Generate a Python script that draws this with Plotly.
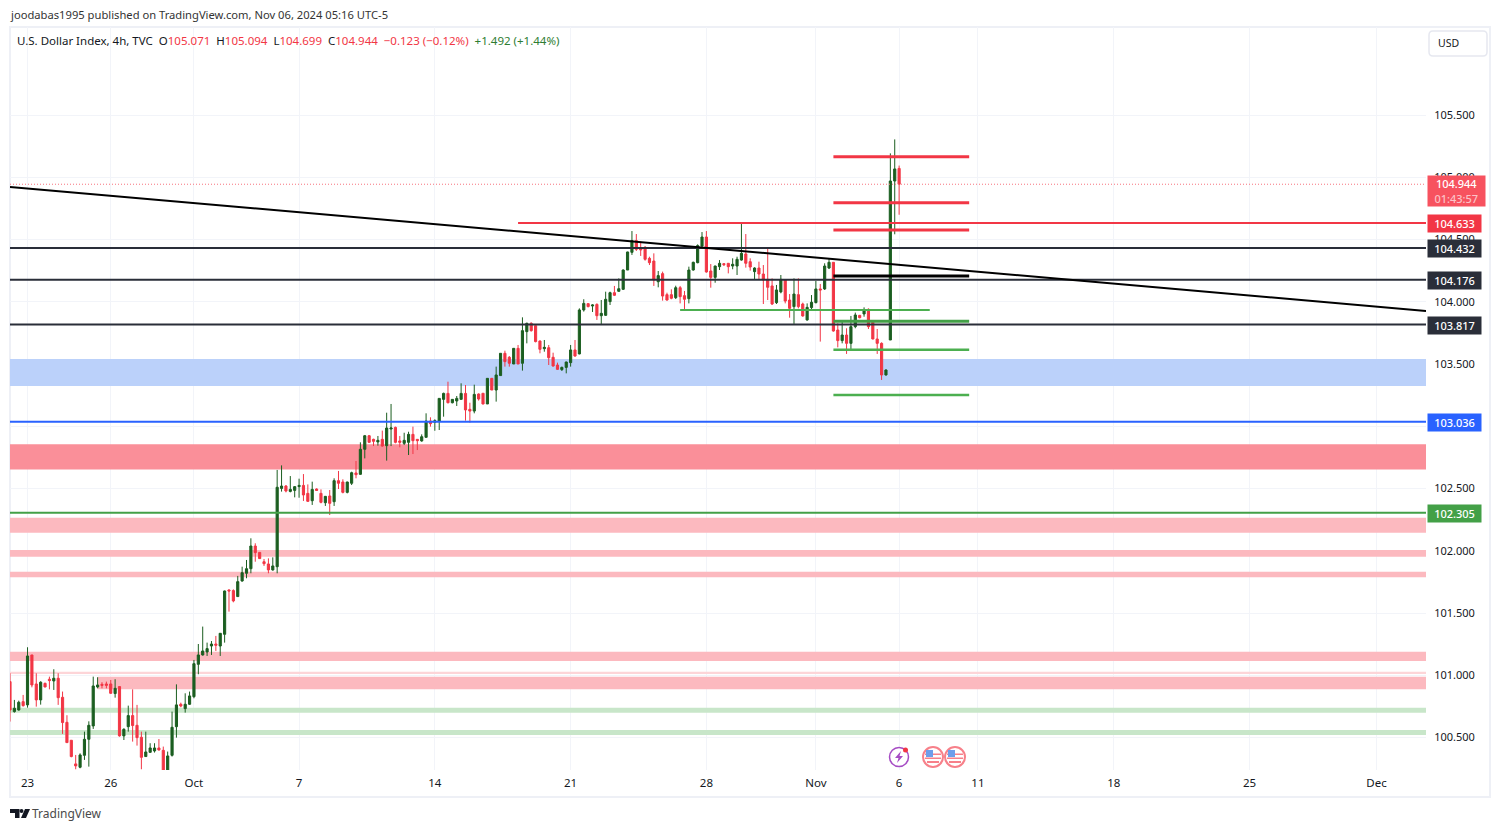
import plotly.graph_objects as go

# 4h candles
opens = [100.949,100.708,100.721,100.788,100.762,101.163,100.930,100.802,100.935,100.968,
         100.954,100.976,100.823,100.622,100.478,100.288,100.261,100.357,100.486,100.593,
         100.906,100.927,100.930,100.930,100.853,100.909,100.513,100.587,100.676,100.598,
         100.502,100.347,100.381,100.392,100.416,100.397,100.213,100.357,100.587,100.767,
         100.732,100.767,100.828,101.088,101.163,101.187,101.235,101.251,101.235,101.329,
         101.685,101.680,101.632,101.757,101.819,101.856,102.038,101.987,101.912,101.894,
         101.846,101.872,102.501,102.520,102.477,102.485,102.515,102.525,102.461,102.402,
         102.496,102.461,102.386,102.440,102.394,102.563,102.552,102.469,102.542,102.625,
         102.614,102.815,102.924,102.895,102.874,102.895,102.844,102.978,102.991,102.882,
         102.863,102.871,102.935,102.895,102.882,102.911,103.042,103.032,103.042,103.216,
         103.264,103.189,103.203,103.216,103.264,103.136,103.122,103.259,103.265,103.179,
         103.385,103.291,103.407,103.586,103.554,103.500,103.626,103.506,103.760,103.827,
         103.808,103.685,103.623,103.631,103.554,103.492,103.455,103.473,103.511,103.613,
         103.581,103.934,103.985,103.966,103.979,103.888,103.891,104.001,104.073,104.084,
         104.100,104.255,104.397,104.491,104.434,104.437,104.349,104.327,104.161,104.226,
         104.057,104.057,104.033,104.113,104.049,104.025,104.255,104.314,104.448,104.520,
         104.247,104.196,104.282,104.306,104.309,104.287,104.287,104.335,104.384,104.322,
         104.242,104.271,104.223,104.180,104.127,103.993,104.079,104.175,104.014,103.961,
         104.057,103.982,103.854,103.953,103.993,104.103,104.103,104.271,104.317,103.773,
         103.688,103.733,103.666,103.800,103.891,103.902,103.939,103.846,103.701,103.666,
         103.412,103.693,104.970,105.071]
highs = [101.016,100.802,100.796,100.842,101.225,101.163,101.016,100.952,100.941,100.989,
         101.048,101.016,100.869,100.679,100.478,100.360,100.373,100.547,100.630,100.989,
         100.984,100.944,100.949,100.962,100.968,100.909,100.574,100.756,100.887,100.762,
         100.547,100.547,100.454,100.454,100.488,100.427,100.387,100.708,100.927,100.780,
         100.855,100.869,101.123,101.251,101.391,101.262,101.275,101.316,101.337,101.680,
         101.690,101.690,101.798,101.872,101.926,102.100,102.060,101.987,101.934,101.939,
         101.947,102.649,102.686,102.528,102.600,102.520,102.579,102.616,102.533,102.555,
         102.501,102.493,102.440,102.488,102.582,102.641,102.574,102.555,102.635,102.721,
         102.871,102.930,102.930,102.900,102.922,102.965,103.109,103.179,102.997,102.922,
         102.948,102.956,102.997,102.895,102.935,103.104,103.072,103.056,103.224,103.270,
         103.358,103.216,103.243,103.345,103.331,103.189,103.334,103.264,103.265,103.385,
         103.385,103.479,103.586,103.607,103.564,103.626,103.653,103.875,103.832,103.835,
         103.808,103.688,103.693,103.653,103.591,103.511,103.479,103.519,103.653,103.693,
         103.947,104.020,103.987,103.979,103.987,104.014,104.081,104.081,104.127,104.188,
         104.260,104.402,104.568,104.544,104.483,104.448,104.362,104.389,104.247,104.242,
         104.073,104.100,104.129,104.127,104.087,104.282,104.322,104.461,104.560,104.568,
         104.303,104.290,104.335,104.309,104.309,104.349,104.362,104.630,104.544,104.349,
         104.277,104.322,104.295,104.437,104.188,104.135,104.215,104.180,104.062,104.188,
         104.188,103.993,103.987,104.054,104.167,104.143,104.309,104.349,104.317,103.827,
         103.840,103.787,103.886,103.913,103.894,103.955,103.947,103.846,103.781,103.674,
         103.457,105.192,105.304,105.094]
lows = [100.628,100.700,100.716,100.748,100.740,100.903,100.748,100.764,100.903,100.887,
        100.882,100.762,100.529,100.459,100.341,100.245,100.253,100.320,100.266,100.569,
        100.895,100.895,100.895,100.850,100.820,100.507,100.480,100.547,100.467,100.435,
        100.245,100.347,100.379,100.379,100.395,100.186,100.213,100.347,100.499,100.743,
        100.700,100.762,100.815,101.008,101.158,101.155,101.163,101.195,101.155,101.262,
        101.511,101.586,101.632,101.752,101.779,101.819,101.912,101.934,101.878,101.819,
        101.840,101.819,102.475,102.469,102.469,102.429,102.426,102.400,102.392,102.368,
        102.480,102.381,102.360,102.287,102.360,102.496,102.461,102.461,102.528,102.582,
        102.611,102.742,102.868,102.841,102.844,102.836,102.724,102.841,102.863,102.831,
        102.849,102.769,102.777,102.809,102.876,102.911,102.997,102.964,102.970,103.077,
        103.184,103.184,103.163,103.216,103.045,103.029,103.104,103.206,103.176,103.179,
        103.291,103.198,103.407,103.479,103.479,103.500,103.500,103.447,103.666,103.760,
        103.674,103.586,103.599,103.492,103.479,103.452,103.444,103.425,103.479,103.559,
        103.578,103.921,103.955,103.918,103.854,103.813,103.886,103.974,104.046,104.081,
        104.095,104.255,104.376,104.408,104.368,104.330,104.295,104.127,104.116,104.009,
        104.009,104.020,104.022,103.987,103.934,103.987,104.250,104.309,104.437,104.234,
        104.113,104.153,104.255,104.287,104.228,104.261,104.215,104.330,104.274,104.250,
        104.183,104.175,103.982,104.014,103.974,103.982,104.068,103.987,103.872,103.822,
        103.947,103.880,103.848,103.939,103.987,103.680,104.095,104.263,103.760,103.634,
        103.666,103.581,103.613,103.787,103.867,103.880,103.781,103.698,103.581,103.372,
        103.407,103.693,104.542,104.699]
closes = [100.721,100.735,100.783,100.756,101.155,100.922,100.802,100.944,100.906,100.957,
          100.976,100.820,100.620,100.459,100.347,100.272,100.360,100.486,100.598,100.914,
          100.922,100.919,100.919,100.855,100.895,100.513,100.566,100.676,100.596,100.499,
          100.341,100.384,100.416,100.416,100.400,100.199,100.352,100.582,100.762,100.753,
          100.767,100.834,101.093,101.163,101.195,101.214,101.251,101.241,101.337,101.677,
          101.677,101.597,101.752,101.824,101.856,102.038,101.985,101.937,101.896,101.846,
          101.878,102.510,102.520,102.480,102.493,102.515,102.525,102.448,102.397,102.493,
          102.485,102.389,102.437,102.381,102.563,102.542,102.469,102.552,102.627,102.611,
          102.815,102.924,102.871,102.879,102.887,102.841,102.986,102.986,102.871,102.871,
          102.887,102.935,102.884,102.884,102.916,103.042,103.021,103.045,103.224,103.264,
          103.189,103.216,103.224,103.264,103.131,103.122,103.256,103.219,103.179,103.385,
          103.291,103.412,103.586,103.519,103.506,103.626,103.500,103.768,103.827,103.768,
          103.680,103.618,103.634,103.551,103.484,103.457,103.473,103.516,103.613,103.564,
          103.934,103.987,103.961,103.974,103.888,103.907,104.020,104.073,104.052,104.105,
          104.255,104.400,104.491,104.421,104.416,104.341,104.314,104.175,104.210,104.046,
          104.014,104.028,104.113,104.041,104.020,104.255,104.317,104.451,104.520,104.239,
          104.196,104.287,104.309,104.298,104.282,104.301,104.341,104.389,104.309,104.279,
          104.271,104.223,104.175,104.116,103.982,104.095,104.180,104.006,103.947,104.062,
          103.961,103.886,103.955,103.996,104.103,104.095,104.287,104.317,103.765,103.688,
          103.733,103.666,103.800,103.894,103.872,103.934,103.800,103.701,103.666,103.412,
          103.452,104.970,105.067,104.944]

# time axis, positions are bar numbers
date_ticks = [4, 23, 42, 66, 97, 128, 159, 184, 203, 221, 252, 283, 312]
date_labels = ['23', '26', 'Oct', '7', '14', '21', '28', 'Nov', '6', '11', '18', '25', 'Dec']
price_ticks = [100.5, 101.0, 101.5, 102.0, 102.5, 103.0, 103.5, 104.0, 104.5, 105.0, 105.5]
# 103.000 sits fully behind the blue tag in the reference
price_labels = ['100.500', '101.000', '101.500', '102.000', '102.500', '', '103.500', '104.000', '104.500', '105.000', '105.500']

# full width levels: price, colour, tag shown on the price scale
level_prices = [104.432, 104.176, 103.817, 103.036, 102.305]
level_colors = ['#2a2e39', '#2a2e39', '#2a2e39', '#2962ff', '#43a047']
last_price = 104.944
resistance_price = 104.633
resistance_start = 116
trend_x = [0, 323.3]
trend_y = [104.922, 103.926]

# zones: low, high, start bar, colour
zone_lows = [103.323, 102.653, 102.145, 101.952, 101.787, 101.114, 101.010, 100.887, 100.699, 100.520]
zone_highs = [103.540, 102.855, 102.265, 102.006, 101.832, 101.189, 101.028, 100.989, 100.739, 100.560]
zone_starts = [0, 0, 0, 0, 0, 0, 0, 20, 0, 0]
zone_colors = ['#bbd1fa', '#fa8f99', '#fcb9bf', '#fcb9bf', '#fcb9bf', '#fcb9bf', '#fdd5d8', '#fcb9bf', '#c8e6c9', '#c8e6c9']

# short target lines drawn after Nov 1
seg_prices = [105.165, 104.796, 104.576, 104.207, 103.843, 103.615, 103.251, 103.934]
seg_starts = [188, 188, 188, 188, 188, 188, 188, 153]
seg_ends = [219, 219, 219, 219, 219, 219, 219, 210]
seg_colors = ['#f23645', '#f23645', '#f23645', '#000000', '#43a047', '#4caf50', '#4caf50', '#4caf50']
seg_widths = [3, 3, 3, 3, 3, 2.5, 2.5, 2]

bars = list(range(len(opens)))
X_MAX = 323.3
FONT = 'Noto Sans'


# chart frame in pixels, used for everything that sits outside the axes
def px(x):
    return (x - 10) / 1416


def py(y):
    return (770 - y) / 743


def path(points):
    return 'M' + ' L'.join('%.5f,%.5f' % (px(a), py(b)) for a, b in points) + ' Z'


def circle(cx, cy, r, line, fill, width=1.5):
    return dict(type='circle', xref='paper', yref='paper', x0=px(cx - r), x1=px(cx + r), y0=py(cy + r), y1=py(cy - r),
                line=dict(color=line, width=width), fillcolor=fill, layer='above')


def box(x0, y0, x1, y1, color):
    return dict(type='rect', xref='paper', yref='paper', x0=px(x0), x1=px(x1), y0=py(y1), y1=py(y0),
                line_width=0, fillcolor=color, layer='above')


fig = go.Figure()

fig.add_trace(go.Candlestick(x=bars, open=opens, high=highs, low=lows, close=closes,
                             increasing=dict(line=dict(color='#1b5e20', width=1), fillcolor='#1b5e20'),
                             decreasing=dict(line=dict(color='#f23645', width=1), fillcolor='#f23645'),
                             whiskerwidth=0, showlegend=False, hoverinfo='skip'))

fig.add_trace(go.Scatter(x=[0, X_MAX], y=[last_price, last_price], mode='lines',
                         line=dict(color='#f7727d', width=1, dash='1px,2px'), hoverinfo='skip'))
fig.add_trace(go.Scatter(x=[resistance_start, X_MAX], y=[resistance_price, resistance_price], mode='lines',
                         line=dict(color='#f23645', width=2), hoverinfo='skip'))
for price, color in zip(level_prices, level_colors):
    fig.add_trace(go.Scatter(x=[0, X_MAX], y=[price, price], mode='lines',
                             line=dict(color=color, width=2), hoverinfo='skip'))
for price, start, end, color, width in zip(seg_prices, seg_starts, seg_ends, seg_colors, seg_widths):
    fig.add_trace(go.Scatter(x=[start, end], y=[price, price], mode='lines',
                             line=dict(color=color, width=width), hoverinfo='skip'))
fig.add_trace(go.Scatter(x=trend_x, y=trend_y, mode='lines', line=dict(color='#000000', width=2), hoverinfo='skip'))

shapes = []
for low, high, start, color in zip(zone_lows, zone_highs, zone_starts, zone_colors):
    shapes.append(dict(type='rect', xref='x', yref='y', x0=start, x1=X_MAX, y0=low, y1=high,
                       line_width=0, fillcolor=color, layer='between'))

# outer frame and USD button
shapes.append(dict(type='rect', xref='paper', yref='paper', x0=px(10), x1=px(1490), y0=py(797), y1=py(27),
                   line=dict(color='#eef0f6', width=2), layer='below'))
bx0, bx1, by0, by1, r = px(1429), px(1487), py(56), py(31), 4
rx, ry = r / 1416, r / 743
shapes.append(dict(type='path', xref='paper', yref='paper', layer='above', fillcolor='white',
                   line=dict(color='#e6e8f0', width=1.5),
                   path=f'M{bx0 + rx},{by1} L{bx1 - rx},{by1} Q{bx1},{by1} {bx1},{by1 - ry} L{bx1},{by0 + ry} '
                        f'Q{bx1},{by0} {bx1 - rx},{by0} L{bx0 + rx},{by0} Q{bx0},{by0} {bx0},{by0 + ry} '
                        f'L{bx0},{by1 - ry} Q{bx0},{by1} {bx0 + rx},{by1} Z'))

# TradingView logo
shapes.append(dict(type='path', xref='paper', yref='paper', line_width=0, fillcolor='#131722', layer='above',
                   path=path([(10, 809), (19.5, 809), (19.5, 818), (15, 818), (15, 813), (10, 813)])))
shapes.append(dict(type='path', xref='paper', yref='paper', line_width=0, fillcolor='#131722', layer='above',
                   path=path([(25, 809), (30, 809), (26, 818), (21, 818)])))
shapes.append(circle(21.5, 811, 2, '#131722', '#131722', 0))

# event icons above the time scale
shapes.append(circle(899, 757, 9.5, '#a64cc4', 'white'))
shapes.append(dict(type='path', xref='paper', yref='paper', line_width=0, fillcolor='#a64cc4', layer='above',
                   path=path([(901, 751), (895, 758), (898.5, 758), (897, 763), (903, 756), (899.5, 756)])))
shapes.append(circle(905.5, 750, 2.5, '#f23645', '#f23645', 0))
for cx in [933, 955]:
    shapes.append(circle(cx, 757, 10, '#f7808a', 'white', 2))
    shapes.append(box(cx - 8, 753.5, cx + 8, 755, '#f7808a'))
    shapes.append(box(cx - 8, 757.5, cx + 8, 759, '#f7808a'))
    shapes.append(box(cx - 6, 761, cx + 6, 763, '#f7808a'))
    shapes.append(box(cx - 7, 750, cx, 757, '#6d9eeb'))

annotations = []


def text(x, y, s, size=11.2, color='#131722', anchor='left'):
    annotations.append(dict(xref='paper', yref='paper', x=px(x - 2), y=py(y), text=s, showarrow=False, xanchor=anchor,
                            yanchor='middle', align='left', font=dict(family=FONT, size=size, color=color)))


def tag(price_y, s, color, right=1481.5, height=15):
    annotations.append(dict(xref='paper', yref='paper', x=px(1426.5), y=py(price_y), text=s, showarrow=False,
                            xanchor='left', yanchor='middle', align='center', bgcolor=color, borderpad=1,
                            width=right - 1426.5 - 4, height=height,
                            font=dict(family=FONT, size=11, color='white', weight=500)))


def price_to_y(price):
    return 115 + (105.5 - price) * 124.5


text(10, 14, 'joodabas1995 published on TradingView.com, Nov 06, 2024 05:16 UTC-5', color='#333333')
red = '<span style="color:#f23645">%s</span>'
text(17, 41, 'U.S. Dollar Index, 4h, TVC  O' + red % '105.071' + '  H' + red % '105.094' + '  L' + red % '104.699'
     + '  C' + red % '104.944' + '  ' + red % '−0.123 (−0.12%)' + '  <span style="color:#2e7d32">+1.492 (+1.44%)</span>',
     size=11.5)
text(1438, 43.5, 'USD', size=10.5)
text(32, 813.5, 'TradingView', size=12, color='#4a4a4a')

tag(191, '104.944<br><span style="color:#fcc2c7">01:43:57</span>', '#f7525f', right=1485, height=28)
tag(price_to_y(resistance_price) + 0.5, '%.3f' % resistance_price, '#f23645')
for price, color in zip(level_prices, level_colors):
    tag(price_to_y(price) + 0.5, '%.3f' % price, color)

fig.update_layout(width=1500, height=831, margin=dict(l=10, r=74, t=27, b=61), autosize=False,
                  paper_bgcolor='white', plot_bgcolor='white', showlegend=False,
                  shapes=shapes, annotations=annotations,
                  xaxis=dict(range=[0, X_MAX], tickvals=date_ticks, ticktext=date_labels, rangeslider_visible=False,
                             showgrid=True, gridcolor='#f2f4f9', zeroline=False, showline=False,
                             ticks='outside', ticklen=2, tickcolor='rgba(0,0,0,0)',
                             tickfont=dict(family=FONT, size=11.5, color='#131722')),
                  yaxis=dict(range=[100.239, 106.207], side='right', tickvals=price_ticks, ticktext=price_labels,
                             showgrid=True, gridcolor='#f2f4f9', zeroline=False, showline=False,
                             ticks='outside', ticklen=5, tickcolor='rgba(0,0,0,0)',
                             tickfont=dict(family=FONT, size=11, color='#131722')))

fig.write_html("out.html", config=dict(displayModeBar=False),
               post_script="document.body.style.margin='0';document.body.style.overflow='hidden';")
